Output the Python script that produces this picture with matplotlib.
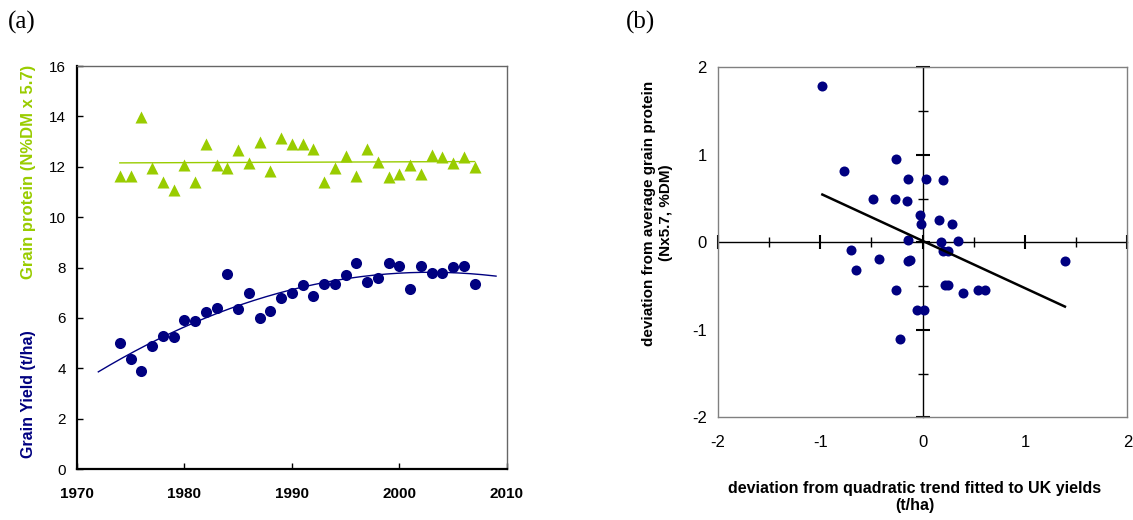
import numpy as np
import matplotlib.pyplot as plt

plt.rcParams['font.family'] = ['Liberation Sans', 'DejaVu Sans']
plt.rcParams['axes.unicode_minus'] = False

# UK wheat: grain yield and grain protein by harvest year
years = np.arange(1974, 2008)
protein = [11.63, 11.63, 13.99, 11.96, 11.41, 11.08, 12.08, 11.41, 12.89, 12.08,
           11.95, 12.65, 12.17, 12.99, 11.83, 13.15, 12.89, 12.89, 12.69, 11.41,
           11.96, 12.43, 11.62, 12.69, 12.21, 11.58, 11.71, 12.08, 11.71, 12.45,
           12.39, 12.17, 12.39, 12.00]
grain_yield = [4.99, 4.36, 3.88, 4.90, 5.28, 5.25, 5.92, 5.88, 6.24, 6.38,
               7.76, 6.34, 6.99, 6.01, 6.28, 6.78, 6.99, 7.30, 6.87, 7.36,
               7.36, 7.72, 8.17, 7.42, 7.59, 8.17, 8.05, 7.13, 8.05, 7.79,
               7.79, 8.01, 8.05, 7.34]

# deviations: yield from quadratic trend vs protein from its mean
dev_yield = [-0.98, -0.26, -0.765, -0.147, 0.036, 0.195, -0.489, -0.27, -0.156,
             -0.026, -0.016, 0.16, 0.287, -0.147, 0.182, 0.345, -0.70, 0.195,
             0.244, -0.423, -0.147, -0.12, -0.651, 1.39, 0.218, 0.244, -0.26,
             0.397, 0.544, 0.606, -0.055, 0.016, -0.218]
dev_protein = [1.79, 0.956, 0.81, 0.728, 0.728, 0.709, 0.499, 0.499, 0.476,
               0.309, 0.21, 0.259, 0.213, 0.027, 0.008, 0.019, -0.091, -0.095,
               -0.095, -0.19, -0.213, -0.20, -0.32, -0.213, -0.484, -0.484,
               -0.549, -0.583, -0.549, -0.549, -0.777, -0.777, -1.11]

green = '#99CC00'
navy = '#000080'

fig = plt.figure(figsize=(11.33, 5.2), dpi=100)

# ---- (a) time series ----
ax = fig.add_axes([0.0678, 0.098, 0.3795, 0.775])
ax.scatter(years, protein, marker='^', s=75, color=green, zorder=3, linewidths=0)
ax.scatter(years, grain_yield, marker='o', s=64, color=navy, zorder=3, linewidths=0)

p1 = np.polyfit(years, protein, 1)
xl = np.array([years[0], years[-1]])
ax.plot(xl, np.polyval(p1, xl), color=green, lw=1)

p2 = np.polyfit(years, grain_yield, 2)
xq = np.linspace(1972, 2009, 200)
ax.plot(xq, np.polyval(p2, xq), color=navy, lw=1)

ax.set_xlim(1970, 2010)
ax.set_ylim(0, 16)
ax.set_xticks(np.arange(1970, 2011, 10))
ax.set_yticks(np.arange(0, 17, 2))
ax.tick_params(direction='in', length=4, width=1, labelsize=11)
ax.tick_params(axis='x', pad=13)
ax.tick_params(axis='y', pad=8)
for lab in ax.get_xticklabels():
    lab.set_fontweight('bold')
for s in ['left', 'bottom']:
    ax.spines[s].set_linewidth(1.6)
    ax.spines[s].set_color('black')
for s in ['top', 'right']:
    ax.spines[s].set_linewidth(1)
    ax.spines[s].set_color('#666666')

fig.text(0.025, 1 - 172 / 520, 'Grain protein (N%DM x 5.7)', rotation=90,
         color=green, fontsize=12, fontweight='bold', ha='center', va='center')
fig.text(0.025, 1 - 394 / 520, 'Grain Yield (t/ha)', rotation=90,
         color=navy, fontsize=11.5, fontweight='bold', ha='center', va='center')
fig.text(0.0195, 1 - 22 / 520, '(a)', family='Liberation Serif', fontsize=18,
         ha='center', va='center')

# ---- (b) deviations ----
pos_b = [0.6337, 0.1975, 0.3613, 0.673]

# axis lines crossing at the origin
axz = fig.add_axes(pos_b)
axz.set_xlim(-2, 2)
axz.set_ylim(-2, 2)
for s in ['top', 'right']:
    axz.spines[s].set_visible(False)
axz.spines['left'].set_position(('data', 0))
axz.spines['bottom'].set_position(('data', 0))
for s in ['left', 'bottom']:
    axz.spines[s].set_linewidth(1)
    axz.spines[s].set_color('black')
axz.set_xticks(np.arange(-2, 2.1, 1))
axz.set_yticks(np.arange(-2, 2.1, 1))
axz.set_xticks(np.arange(-1.5, 2, 1), minor=True)
axz.set_yticks(np.arange(-1.5, 2, 1), minor=True)
axz.tick_params(which='major', direction='inout', length=10, width=1.5,
                labelbottom=False, labelleft=False)
axz.tick_params(which='minor', direction='inout', length=7, width=1)

axb = fig.add_axes(pos_b, facecolor='none')
axb.scatter(dev_yield, dev_protein, s=52, color=navy, zorder=3, linewidths=0)
pb = np.polyfit(dev_yield, dev_protein, 1)
xb = np.array([min(dev_yield), max(dev_yield)])
axb.plot(xb, np.polyval(pb, xb), color='black', lw=1.8, zorder=4)
axb.set_xlim(-2, 2)
axb.set_ylim(-2, 2)
axb.set_xticks(np.arange(-2, 2.1, 1))
axb.set_yticks(np.arange(-2, 2.1, 1))
axb.tick_params(length=0, labelsize=12)
axb.tick_params(axis='x', pad=13)
axb.tick_params(axis='y', pad=8)
for s in axb.spines.values():
    s.set_color('#808080')
    s.set_linewidth(1)

fig.text(914.5 / 1133, 1 - 497 / 520,
         'deviation from quadratic trend fitted to UK yields\n(t/ha)',
         fontsize=11.5, fontweight='bold', ha='center', va='center',
         multialignment='center', linespacing=1.15)
fig.text(0.5805, 1 - 213 / 520,
         'deviation from average grain protein\n(Nx5.7, %DM)', rotation=90,
         fontsize=11, fontweight='bold', ha='center', va='center',
         multialignment='center', linespacing=1.25)
fig.text(0.5655, 1 - 22 / 520, '(b)', family='Liberation Serif', fontsize=18,
         ha='center', va='center')

fig.savefig('out.png', dpi=100)
